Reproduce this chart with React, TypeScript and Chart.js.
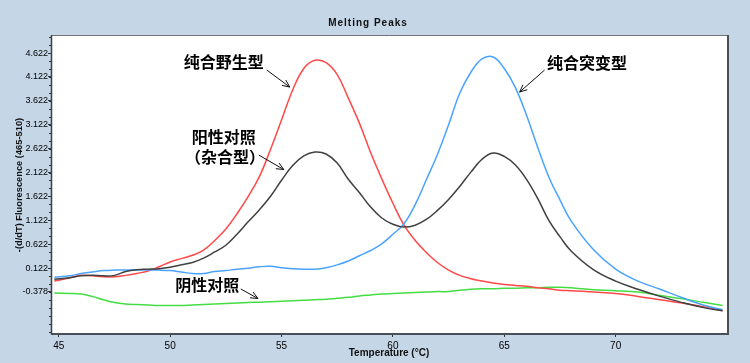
import React, { useEffect, useRef } from "react";
import { Chart, registerables } from "chart.js";

Chart.register(...registerables);

// ---- data ----
const temps = [
  44.8, 45.5, 46, 46.5, 47, 47.5, 48, 48.5, 49, 49.5, 50, 50.5, 51, 51.5, 52, 52.5,
  53, 53.5, 54, 54.5, 55, 55.5, 56, 56.5, 57, 57.5, 58, 58.5, 59, 59.5, 60, 60.5,
  61, 61.5, 62, 62.5, 63, 63.5, 64, 64.5, 65, 65.5, 66, 66.5, 67, 67.5, 68, 69,
  70, 71, 72, 73, 74, 74.8,
];

const wildType = [
  -0.15, -0.08, -0.03, -0.04, -0.06, -0.06, -0.03, 0.01, 0.06, 0.15, 0.25, 0.32, 0.39, 0.5, 0.7, 0.94,
  1.26, 1.62, 2.03, 2.6, 3.22, 3.85, 4.3, 4.47, 4.42, 4.17, 3.68, 3.15, 2.54, 1.99, 1.48, 1.02,
  0.7, 0.45, 0.24, 0.08, -0.03, -0.1, -0.15, -0.19, -0.22, -0.24, -0.26, -0.29, -0.31, -0.34, -0.35, -0.38,
  -0.41, -0.47, -0.54, -0.61, -0.69, -0.77,
];

const heterozygous = [
  -0.11, -0.08, -0.04, -0.03, -0.04, -0.03, 0.05, 0.09, 0.1, 0.11, 0.14, 0.19, 0.24, 0.33, 0.46, 0.6,
  0.83, 1.09, 1.34, 1.62, 1.96, 2.27, 2.47, 2.55, 2.51, 2.32, 1.98, 1.7, 1.4, 1.17, 1.04, 0.98,
  1.02, 1.14, 1.33, 1.56, 1.83, 2.13, 2.4, 2.53, 2.46, 2.28, 1.98, 1.58, 1.12, 0.78, 0.48, 0.09,
  -0.15, -0.32, -0.47, -0.6, -0.71, -0.77,
];

const mutant = [
  -0.07, -0.04, 0.01, 0.04, 0.07, 0.08, 0.08, 0.08, 0.08, 0.08, 0.07, 0.04, 0.01, 0.01, 0.05, 0.07,
  0.1, 0.12, 0.15, 0.16, 0.13, 0.11, 0.1, 0.1, 0.13, 0.19, 0.27, 0.38, 0.49, 0.63, 0.83, 1.05,
  1.45, 1.97, 2.5, 3.12, 3.78, 4.22, 4.5, 4.54, 4.3, 3.9, 3.32, 2.65, 2.03, 1.55, 1.11, 0.51,
  0.1, -0.15, -0.32, -0.5, -0.66, -0.75,
];

const negative = [
  -0.4, -0.41, -0.42, -0.47, -0.54, -0.6, -0.63, -0.64, -0.65, -0.66, -0.66, -0.66, -0.65, -0.64, -0.63, -0.62,
  -0.61, -0.6, -0.59, -0.58, -0.57, -0.56, -0.55, -0.54, -0.53, -0.51, -0.49, -0.46, -0.44, -0.42, -0.41, -0.4,
  -0.39, -0.38, -0.37, -0.37, -0.34, -0.32, -0.31, -0.31, -0.3, -0.3, -0.29, -0.29, -0.28, -0.28, -0.29, -0.33,
  -0.35, -0.38, -0.45, -0.52, -0.6, -0.66,
];

const xTicks = [45, 50, 55, 60, 65, 70];
const yTicks = [-0.378, 0.122, 0.622, 1.122, 1.622, 2.122, 2.622, 3.122, 3.622, 4.122, 4.622];
const yTickLabels = ["-0.378", "0.122", "0.622", "1.122", "1.622", "2.122", "2.622", "3.122", "3.622", "4.122", "4.622"];
const xMin = 44.65;
const xMax = 75.0;
const yMin = -1.236;
const yMax = 5.0;

const chartTitle = "Melting Peaks";
const xTitle = "Temperature (°C)";
const yTitle = "-(d/dT) Fluorescence (465-510)";

// annotation labels (data coordinates)
const labelTexts = ["纯合野生型", "阳性对照", "（杂合型）", "纯合突变型", "阴性对照"];
const labelX = [52.41, 52.41, 52.46, 68.71, 51.67];
const labelY = [4.434, 2.865, 2.446, 4.413, -0.232];

// arrows: from -> to (data coordinates)
const arrowFromX = [54.34, 53.98, 66.81, 53.17];
const arrowFromY = [4.266, 2.488, 4.266, -0.315];
const arrowToX = [55.37, 55.1, 65.69, 53.94];
const arrowToY = [3.91, 2.185, 3.806, -0.514];

const BG = "#c5d6e6";

const decorPlugin = {
  id: "decor",
  beforeDraw(chart: any) {
    const { ctx, chartArea: a, width, height } = chart;
    ctx.save();
    ctx.fillStyle = BG;
    ctx.fillRect(0, 0, width, height);
    ctx.fillStyle = "#ffffff";
    ctx.fillRect(a.left, a.top, a.right - a.left, a.bottom - a.top);
    ctx.restore();
  },
  afterDraw(chart: any) {
    const { ctx, chartArea: a, scales } = chart;
    const xs = scales.x;
    const ys = scales.y;
    ctx.save();
    // frame
    ctx.strokeStyle = "#6b737b";
    ctx.lineWidth = 1;
    ctx.beginPath();
    ctx.moveTo(a.left + 0.5, a.bottom);
    ctx.lineTo(a.left + 0.5, a.top + 0.5);
    ctx.lineTo(a.right, a.top + 0.5);
    ctx.stroke();
    ctx.strokeStyle = "#4a5058";
    ctx.lineWidth = 2;
    ctx.beginPath();
    ctx.moveTo(a.left, a.bottom + 1);
    ctx.lineTo(a.right + 1, a.bottom + 1);
    ctx.lineTo(a.right + 1, a.top);
    ctx.stroke();
    ctx.strokeStyle = "#3c4148";
    ctx.lineWidth = 1.5;
    ctx.beginPath();
    ctx.moveTo(a.left + 0.5, a.top);
    ctx.lineTo(a.left + 0.5, a.bottom + 1);
    ctx.stroke();

    // minor y ticks (three per labelled interval)
    ctx.strokeStyle = "#333";
    ctx.lineWidth = 1;
    const step = (yTicks[1] - yTicks[0]) / 3;
    ctx.beginPath();
    for (let v = yTicks[0] - 9 * step; v <= yMax; v += step) {
      const py = Math.round(ys.getPixelForValue(v)) + 0.5;
      if (py < a.top || py > a.bottom) continue;
      ctx.moveTo(a.left - 2, py);
      ctx.lineTo(a.left, py);
    }
    ctx.stroke();

    // title
    ctx.fillStyle = "#111";
    ctx.textAlign = "center";
    ctx.textBaseline = "middle";
    ctx.font = 'bold 10px "Liberation Sans", Arial, sans-serif';
    (ctx as any).letterSpacing = "1px";
    ctx.fillText(chartTitle, 368, 23);
    (ctx as any).letterSpacing = "0px";

    // x title
    ctx.font = 'bold 10px "Liberation Sans", Arial, sans-serif';
    ctx.fillText(xTitle, (a.left + a.right) / 2, 353);

    // y title
    ctx.save();
    ctx.translate(19, (a.top + a.bottom) / 2 + 1);
    ctx.rotate(-Math.PI / 2);
    ctx.font = 'bold 9.3px "Liberation Sans", Arial, sans-serif';
    ctx.fillText(yTitle, 0, 0);
    ctx.restore();

    // annotations
    ctx.fillStyle = "#000";
    ctx.font = 'bold 16px "Noto Sans CJK SC", sans-serif';
    for (let i = 0; i < labelTexts.length; i++) {
      ctx.fillText(labelTexts[i], xs.getPixelForValue(labelX[i]), ys.getPixelForValue(labelY[i]));
    }
    ctx.strokeStyle = "#111";
    ctx.lineWidth = 1;
    for (let i = 0; i < arrowFromX.length; i++) {
      const x1 = xs.getPixelForValue(arrowFromX[i]);
      const y1 = ys.getPixelForValue(arrowFromY[i]);
      const x2 = xs.getPixelForValue(arrowToX[i]);
      const y2 = ys.getPixelForValue(arrowToY[i]);
      const ang = Math.atan2(y2 - y1, x2 - x1);
      const hl = 8;
      const hw = 0.42;
      ctx.beginPath();
      ctx.moveTo(x1, y1);
      ctx.lineTo(x2, y2);
      ctx.moveTo(x2 - hl * Math.cos(ang - hw), y2 - hl * Math.sin(ang - hw));
      ctx.lineTo(x2, y2);
      ctx.lineTo(x2 - hl * Math.cos(ang + hw), y2 - hl * Math.sin(ang + hw));
      ctx.stroke();
    }
    ctx.restore();
  },
};

function series(vals: number[]) {
  return temps.map((t, i) => ({ x: t, y: vals[i] }));
}

export default function App() {
  const ref = useRef<HTMLCanvasElement | null>(null);
  useEffect(() => {
    if (!ref.current) return;
    const tickFont = { family: '"Liberation Sans", Arial, sans-serif', size: 9 };
    const chart = new Chart(ref.current, {
      type: "line",
      data: {
        datasets: [
          { label: "het", data: series(heterozygous), borderColor: "#404040" },
          { label: "mut", data: series(mutant), borderColor: "#4aa3ff" },
          { label: "wt", data: series(wildType), borderColor: "#ff4848" },
          { label: "neg", data: series(negative), borderColor: "#44dd44" },
        ].map((d) => ({
          ...d,
          borderWidth: 1.5,
          pointRadius: 0,
          fill: false,
          tension: 0.4,
        })),
      },
      options: {
        animation: false,
        responsive: false,
        devicePixelRatio: 1,
        layout: { padding: { left: 0, top: 35, right: 23, bottom: 0 } },
        plugins: { legend: { display: false }, title: { display: false }, tooltip: { enabled: false } },
        events: [],
        scales: {
          x: {
            type: "linear",
            min: xMin,
            max: xMax,
            afterBuildTicks: (s: any) => {
              s.ticks = xTicks.map((v) => ({ value: v }));
            },
            afterFit: (s: any) => {
              s.height = 30;
            },
            ticks: {
              autoSkip: false,
              maxRotation: 0,
              padding: 3,
              color: "#000",
              font: { family: '"Liberation Sans", Arial, sans-serif', size: 10 },
              callback: (v: any) => String(v),
            },
            grid: { drawOnChartArea: false, drawTicks: true, tickLength: 4, color: "#333" },
            border: { display: false },
          },
          y: {
            type: "linear",
            min: yMin,
            max: yMax,
            afterBuildTicks: (s: any) => {
              s.ticks = yTicks.map((v) => ({ value: v }));
            },
            afterFit: (s: any) => {
              s.width = 51;
            },
            ticks: {
              autoSkip: false,
              padding: 0,
              color: "#000",
              font: tickFont,
              callback: (v: any, i: number) => yTickLabels[i],
            },
            grid: { drawOnChartArea: false, drawTicks: true, tickLength: 3, color: "#333" },
            border: { display: false },
          },
        },
      },
      plugins: [decorPlugin],
    });
    return () => chart.destroy();
  }, []);
  return (
    <div style={{ position: "fixed", left: 0, top: 0, width: 750, height: 363, background: BG }}>
      <canvas ref={ref} width={750} height={363} style={{ width: 750, height: 363, display: "block" }} />
    </div>
  );
}
